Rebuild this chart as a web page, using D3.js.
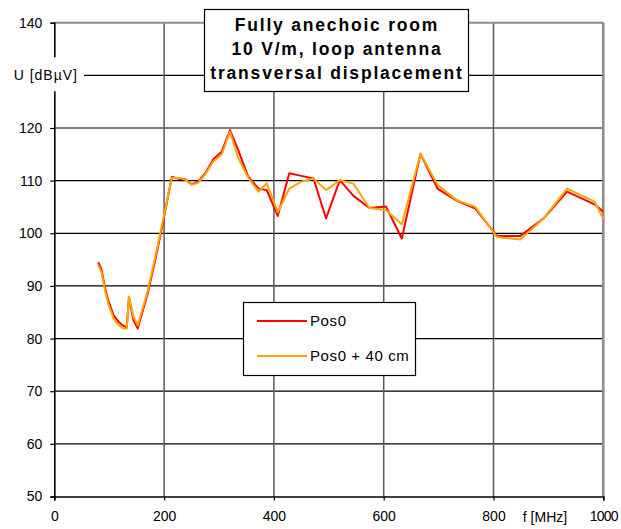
<!DOCTYPE html>
<html>
<head>
<meta charset="utf-8">
<script src="https://cdn.jsdelivr.net/npm/d3@7"></script>
<style>
	html, body { margin: 0; padding: 0; background: #fff; }
	svg { display: block; }
</style>
</head>
<body>
<div id="chart"></div>
<script>
'use strict';

// frequencies (MHz) where both curves were read
var freqs = [80, 86, 92, 98, 108, 117, 126, 132, 136, 144, 152, 170, 185, 196,
	214, 229, 238, 250, 262, 275, 290, 305, 320, 335, 353, 372, 387, 407, 428,
	450, 472, 495, 520, 545, 574, 604, 633, 667, 698, 733, 767, 806, 849, 891,
	934, 984, 1000];

// U [dBuV] - Pos0
var pos0 = [94.5, 93.1, 89.8, 87.3, 84.4, 83.2, 82.4, 82.1, 87.9, 83.5, 81.9, 88.5, 95.5, 101,
	110.7, 110.3, 110.3, 109.3, 109.8, 111.4, 114.1, 115.5, 119.6, 115.8, 110.8, 108.5, 108.2, 103.3, 111.4,
	110.9, 110.4, 102.8, 110.1, 107.1, 104.8, 105.1, 99.0, 115.1, 108.5, 106.2, 104.7, 99.5, 99.5, 102.8,
	107.9, 105.5, 104.1];

// U [dBuV] - Pos0 + 40 cm
var pos40 = [94.0, 92.6, 89.3, 86.7, 83.8, 82.6, 81.9, 81.9, 88.0, 84.2, 82.5, 89, 96, 101.5,
	110.5, 110.5, 110.2, 109.2, 109.6, 111.2, 113.7, 115.0, 119.3, 114.3, 110.6, 107.9, 109.5, 104.0, 108.5,
	109.8, 110.4, 108.2, 110.1, 109.4, 104.8, 104.4, 101.7, 115.1, 109.2, 106.3, 105.0, 99.3, 98.8, 102.8,
	108.5, 106.0, 102.8];

var xTicks = [0, 200, 400, 600, 800, 1000];
var yTicks = [50, 60, 70, 80, 90, 100, 110, 120, 130, 140];
var titleLines = ["Fully anechoic room", "10 V/m, loop antenna", "transversal displacement"];
var seriesNames = ["Pos0", "Pos0 + 40 cm"];
var seriesColors = ["#ff0000", "#ffa500"];

function drawChart(div) {
	var width = 621;
	var height = 529;
	var font = "'Liberation Sans', Arial, sans-serif";

	var svg = d3.select(div).append("svg")
		.attr("width", width)
		.attr("height", height)
		.attr("font-family", font);

	svg.append("rect").attr("width", width).attr("height", height).attr("fill", "#fff");

	var x = d3.scaleLinear().domain([0, 1000]).range([54.3, 603.3]);
	var y = d3.scaleLinear().domain([50, 140]).range([496.5, 22.7]);

	// grid
	var grid = svg.append("g");
	grid.selectAll("line.h")
		.data(yTicks.filter(function(d) { return d > 50 && d < 140; }))
		.enter().append("line")
		.attr("x1", x(0)).attr("x2", x(1000))
		.attr("y1", function(d) { return y(d); })
		.attr("y2", function(d) { return y(d); })
		.attr("stroke", "#000").attr("stroke-width", 1.2);

	grid.selectAll("line.v")
		.data(xTicks.filter(function(d) { return d > 0 && d < 1000; }))
		.enter().append("line")
		.attr("y1", y(50)).attr("y2", y(140))
		.attr("x1", function(d) { return x(d); })
		.attr("x2", function(d) { return x(d); })
		.attr("stroke", "#5a5a5a").attr("stroke-width", 1.5);

	// top / right frame (grey)
	grid.append("line")
		.attr("x1", x(0)).attr("x2", x(1000)).attr("y1", y(140)).attr("y2", y(140))
		.attr("stroke", "#8c8c8c").attr("stroke-width", 2);
	grid.append("line")
		.attr("x1", x(1000)).attr("x2", x(1000)).attr("y1", y(140)).attr("y2", y(50))
		.attr("stroke", "#8c8c8c").attr("stroke-width", 2.5);

	// axes
	var yAxis = d3.axisLeft(y).tickValues(yTicks).tickSize(4).tickPadding(10)
		.tickFormat(function(d) { return d === 130 ? "" : String(d); });
	var gy = svg.append("g").attr("transform", "translate(" + x(0) + ",0)").call(yAxis);
	var xAxis = d3.axisBottom(x).tickValues(xTicks).tickSize(4).tickPadding(11)
		.tickFormat(function(d) { return String(d); });
	var gx = svg.append("g").attr("transform", "translate(0," + y(50) + ")").call(xAxis);

	[gx, gy].forEach(function(g) {
		g.select(".domain").attr("stroke", "#000").attr("stroke-width", 1.6);
		g.selectAll(".tick line").attr("stroke", "#000").attr("stroke-width", 1.2);
		g.selectAll(".tick text")
			.attr("font-family", font)
			.attr("font-size", "14px")
			.attr("fill", "#000");
	});
	gy.selectAll(".tick text").attr("x", -12);
	gx.selectAll(".tick text").filter(function(d) { return d === 1000; })
		.attr("letter-spacing", "-0.8px");

	// curves
	var line = d3.line()
		.x(function(d) { return x(d[0]); })
		.y(function(d) { return y(d[1]); });

	[pos0, pos40].forEach(function(vals, i) {
		svg.append("path")
			.datum(freqs.map(function(f, j) { return [f, vals[j]]; }))
			.attr("d", line)
			.attr("fill", "none")
			.attr("stroke", seriesColors[i])
			.attr("stroke-width", 2)
			.attr("stroke-linejoin", "round");
	});

	// y axis title sits on the 130 line, with a white gap behind it
	svg.append("rect")
		.attr("x", 0).attr("y", y(130) - 18)
		.attr("width", 84).attr("height", 34)
		.attr("fill", "#fff");
	svg.append("text")
		.attr("x", 78).attr("y", y(130))
		.attr("dy", "0.35em")
		.attr("text-anchor", "end")
		.attr("font-size", "14px")
		.attr("letter-spacing", "1px")
		.text("U [dB\u00b5V]");

	// x axis title
	svg.append("text")
		.attr("x", 545).attr("y", y(50) + 21)
		.attr("dy", "0.35em")
		.attr("text-anchor", "middle")
		.attr("font-size", "14px")
		.text("f [MHz]");

	// title box
	var tb = svg.append("g");
	tb.append("rect")
		.attr("x", 204.5).attr("y", 9.5).attr("width", 264).attr("height", 82)
		.attr("fill", "#fff").attr("stroke", "#000").attr("stroke-width", 1.2);
	tb.selectAll("text").data(titleLines).enter().append("text")
		.attr("x", 337)
		.attr("y", function(d, i) { return 25 + i * 24; })
		.attr("dy", "0.35em")
		.attr("text-anchor", "middle")
		.attr("font-size", "17.5px")
		.attr("font-weight", "bold")
		.attr("letter-spacing", "1.8px")
		.text(function(d) { return d; });

	// legend
	var lg = svg.append("g");
	lg.append("rect")
		.attr("x", 243.5).attr("y", 302.5).attr("width", 172).attr("height", 73)
		.attr("fill", "#fff").attr("stroke", "#000").attr("stroke-width", 1.2);
	var items = lg.selectAll("g.item").data(seriesNames).enter().append("g")
		.attr("transform", function(d, i) { return "translate(0," + (321 + i * 35) + ")"; });
	items.append("line")
		.attr("x1", 257).attr("x2", 307)
		.attr("stroke", function(d, i) { return seriesColors[i]; })
		.attr("stroke-width", 2);
	items.append("text")
		.attr("x", 310)
		.attr("dy", "0.35em")
		.attr("font-size", "15px")
		.attr("letter-spacing", "0.6px")
		.text(function(d) { return d; });
}

drawChart(document.getElementById("chart"));
</script>
</body>
</html>
